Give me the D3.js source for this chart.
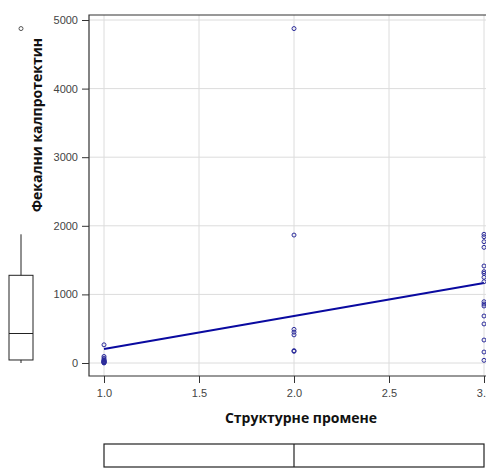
<!DOCTYPE html>
<html>
<head>
<meta charset="utf-8">
<script src="https://cdn.jsdelivr.net/npm/d3@7"></script>
<style>
  html, body { margin: 0; padding: 0; background: #fff; }
  svg { display: block; }
</style>
</head>
<body>
<svg id="chart" width="486" height="468"></svg>
<script>
// Structural changes score (1–3) vs faecal calprotectin, one group per score
const groupX = [1, 2, 3];
const calproGroup1 = [0, 5, 10, 15, 20, 25, 30, 40, 48, 70, 95, 265];
const calproGroup2 = [170, 180, 410, 450, 490, 1865, 4875];
const calproGroup3 = [39, 160, 335, 569, 685, 831, 860, 893, 1185, 1249, 1308, 1331, 1414, 1686, 1768, 1841, 1876];
const xTicks = [1.0, 1.5, 2.0, 2.5, 3.0];
const yTicks = [0, 1000, 2000, 3000, 4000, 5000];
const xTitle = "Структурне промене";
const yTitle = "Фекални калпротектин";

const points = [];
[calproGroup1, calproGroup2, calproGroup3].forEach((vals, i) => {
  vals.forEach(v => points.push({ x: groupX[i], y: v }));
});

const svg = d3.select("#chart");
const plot = { left: 89, right: 500, top: 15, bottom: 376 };

const x = d3.scaleLinear().domain([1, 3]).range([104, 484]);
const y = d3.scaleLinear().domain([0, 5000]).range([363, 20]);

// grid
const grid = svg.append("g").attr("stroke", "#dcdcdc").attr("stroke-width", 1);
grid.selectAll("line.v").data(xTicks).join("line")
  .attr("x1", d => x(d)).attr("x2", d => x(d))
  .attr("y1", plot.top).attr("y2", plot.bottom);
grid.selectAll("line.h").data(yTicks).join("line")
  .attr("x1", plot.left).attr("x2", plot.right)
  .attr("y1", d => y(d)).attr("y2", d => y(d));

// frame lines
svg.append("path")
  .attr("d", `M${plot.right},${plot.top}H${plot.left}V${plot.bottom}H${plot.right}`)
  .attr("fill", "none").attr("stroke", "#333").attr("stroke-width", 1.2);

// axes
const tickFont = "'Liberation Sans', Arial, sans-serif";
const yAxis = svg.append("g").attr("transform", `translate(${plot.left},0)`)
  .call(d3.axisLeft(y).tickValues(yTicks).tickSize(7).tickPadding(4).tickFormat(d3.format("d")));
const xAxis = svg.append("g").attr("transform", `translate(0,${plot.bottom})`)
  .call(d3.axisBottom(x).tickValues(xTicks).tickSize(7).tickPadding(6).tickFormat(d3.format(".1f")));
[yAxis, xAxis].forEach(a => {
  a.select(".domain").remove();
  a.selectAll(".tick line").attr("stroke", "#333");
  a.selectAll(".tick text").attr("fill", "#444").style("font-family", tickFont).style("font-size", "11px");
});

// least-squares fit line
const mx = d3.mean(points, d => d.x), my = d3.mean(points, d => d.y);
const sxy = d3.sum(points, d => (d.x - mx) * (d.y - my));
const sxx = d3.sum(points, d => (d.x - mx) ** 2);
const slope = sxy / sxx, intercept = my - slope * mx;
svg.append("line")
  .attr("x1", x(1)).attr("y1", y(intercept + slope * 1))
  .attr("x2", x(3)).attr("y2", y(intercept + slope * 3))
  .attr("stroke", "#0a0aa0").attr("stroke-width", 2);

// points
svg.append("g").selectAll("circle").data(points).join("circle")
  .attr("cx", d => x(d.x)).attr("cy", d => y(d.y)).attr("r", 2)
  .attr("fill", "none").attr("stroke", "#2b2b9a").attr("stroke-width", 1);

// titles
svg.append("text").text(xTitle)
  .attr("x", 301).attr("y", 423).attr("text-anchor", "middle")
  .style("font-family", "'Open Sans', sans-serif").style("font-weight", "bold")
  .style("font-size", "14px").attr("fill", "#111");
svg.append("text").text(yTitle)
  .attr("transform", "translate(42,125) rotate(-90)").attr("text-anchor", "middle")
  .style("font-family", "'Open Sans', sans-serif").style("font-weight", "bold")
  .style("font-size", "14px").attr("fill", "#111");

// marginal boxplot helper (Tukey hinges)
function tukey(vals) {
  const s = vals.slice().sort(d3.ascending);
  const N = s.length;
  const med = d3.median(s);
  const half = Math.floor((N + 1) / 2);
  const lo = d3.median(s.slice(0, half));
  const hi = d3.median(s.slice(N - half));
  const iqr = hi - lo;
  const wLo = d3.min(s.filter(v => v >= lo - 1.5 * iqr));
  const wHi = d3.max(s.filter(v => v <= hi + 1.5 * iqr));
  const out = s.filter(v => v < wLo || v > wHi);
  return { lo, med, hi, wLo, wHi, out };
}

// left marginal boxplot of calprotectin
const by = tukey(points.map(d => d.y));
const bx0 = 9, bx1 = 33, bxc = 21;
const lb = svg.append("g").attr("stroke", "#222").attr("fill", "none").attr("stroke-width", 1);
lb.append("rect").attr("x", bx0).attr("width", bx1 - bx0)
  .attr("y", y(by.hi)).attr("height", y(by.lo) - y(by.hi));
lb.append("line").attr("x1", bx0).attr("x2", bx1).attr("y1", y(by.med)).attr("y2", y(by.med));
lb.append("line").attr("x1", bxc).attr("x2", bxc).attr("y1", y(by.wHi)).attr("y2", y(by.hi));
lb.append("line").attr("x1", bxc).attr("x2", bxc).attr("y1", y(by.lo)).attr("y2", y(by.wLo));
lb.selectAll("circle").data(by.out).join("circle")
  .attr("cx", bxc).attr("cy", d => y(d)).attr("r", 2).attr("stroke", "#555");

// bottom marginal boxplot of structural change score
const bxs = tukey(points.map(d => d.x));
const by0 = 444, by1 = 467, byc = (by0 + by1) / 2;
const bb = svg.append("g").attr("stroke", "#222").attr("fill", "none").attr("stroke-width", 1.2);
bb.append("rect").attr("x", x(bxs.lo)).attr("width", x(bxs.hi) - x(bxs.lo))
  .attr("y", by0).attr("height", by1 - by0);
bb.append("line").attr("x1", x(bxs.med)).attr("x2", x(bxs.med)).attr("y1", by0).attr("y2", by1);
bb.append("line").attr("x1", x(bxs.wLo)).attr("x2", x(bxs.lo)).attr("y1", byc).attr("y2", byc);
bb.append("line").attr("x1", x(bxs.hi)).attr("x2", x(bxs.wHi)).attr("y1", byc).attr("y2", byc);
</script>
</body>
</html>
